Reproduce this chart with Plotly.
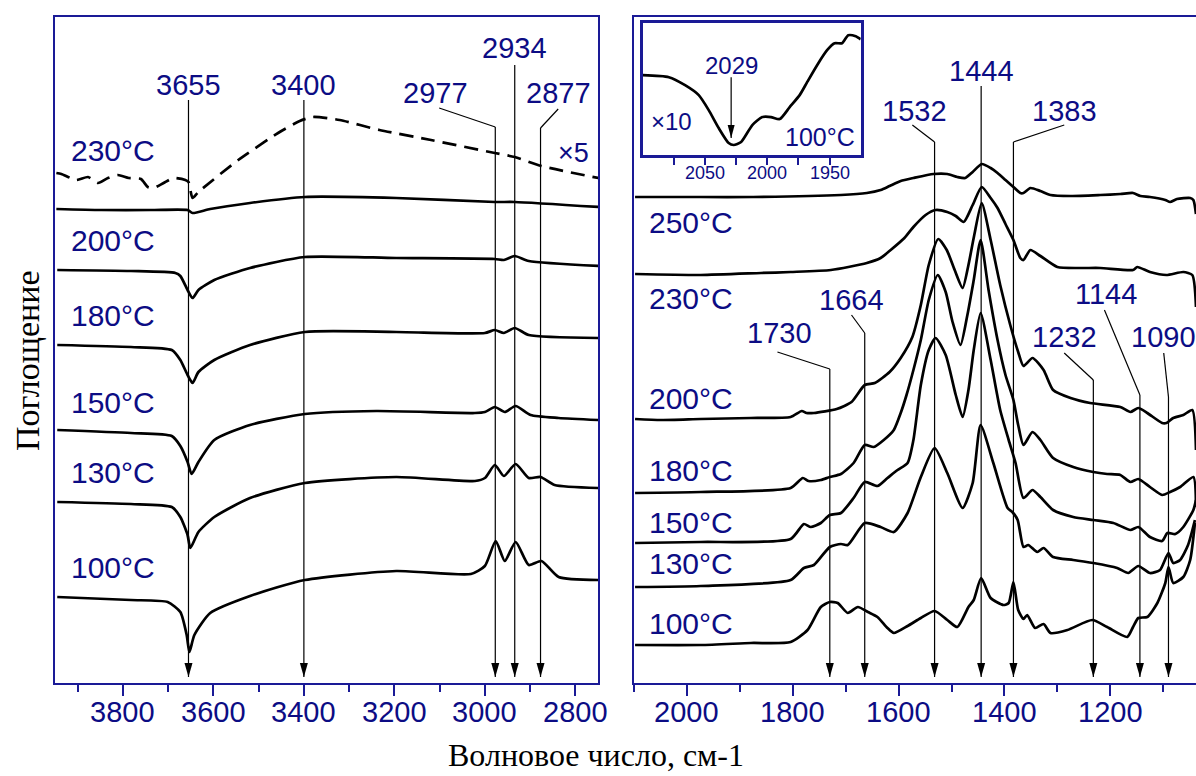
import plotly.graph_objects as go

NAVY = "#0c0c84"
FRAME = "#1a1a96"
SANS = "Arial, Liberation Sans, sans-serif"
SERIF = "Times New Roman, Liberation Serif, serif"

# ---------------- Left panel data (wavenumber, absorbance a.u.) ----------------
left_230x5_wn = [3947, 3936, 3903, 3877, 3855, 3833, 3811, 3787, 3760, 3745, 3732, 3710, 3688, 3662, 3655,
                 3646, 3633, 3545, 3457, 3409, 3380, 3321, 3233, 3119, 2978, 2934, 2875, 2749]
left_230x5_abs = [510, 509, 503, 506, 500, 505, 508, 505, 504, 496, 495, 500, 505, 503, 501,
                  485, 491, 523, 550, 562, 566, 563, 553, 543, 530, 526, 517, 505]

left_230_wn = [3947, 3848, 3738, 3657, 3646, 3607, 3519, 3398, 3196, 2978, 2934, 2749]
left_230_abs = [474, 473, 473, 473, 470, 474, 480, 486, 485, 481, 481, 476]

left_200_wn = [3945, 3782, 3684, 3673, 3657, 3646, 3633, 3598, 3519, 3398, 3196, 2978, 2958, 2934, 2903, 2749]
left_200_abs = [413, 412, 410, 407, 393, 385, 393, 403, 415, 426, 425, 424, 423, 427, 422, 417]

left_180_wn = [3945, 3782, 3692, 3673, 3657, 3646, 3633, 3598, 3519, 3398, 3196, 3000, 2978, 2958, 2934, 2903, 2749]
left_180_abs = [338, 336, 333, 323, 308, 300, 311, 323, 338, 351, 351, 350, 353, 350, 355, 348, 345]

left_150_wn = [3945, 3782, 3692, 3673, 3657, 3648, 3633, 3598, 3519, 3398, 3240, 3022, 3000, 2978, 2956,
               2932, 2899, 2837, 2749]
left_150_abs = [253, 250, 247, 237, 221, 209, 221, 243, 258, 269, 272, 270, 271, 276, 271,
                277, 268, 265, 263]

left_130_wn = [3945, 3782, 3692, 3673, 3657, 3651, 3633, 3598, 3519, 3398, 3196, 3022, 3000, 2978, 2958,
               2932, 2903, 2877, 2846, 2749]
left_130_abs = [181, 179, 176, 166, 148, 135, 151, 166, 185, 200, 206, 202, 205, 218, 207,
                219, 205, 206, 198, 195]

left_100_wn = [3945, 3782, 3701, 3673, 3659, 3653, 3642, 3607, 3519, 3398, 3196, 3031, 3000, 2976, 2956,
               2932, 2903, 2875, 2837, 2749]
left_100_abs = [86, 83, 81, 71, 48, 31, 48, 70, 87, 103, 112, 109, 117, 142, 122,
                141, 118, 122, 106, 103]

# ---------------- Right panel data ----------------
r250_wn = [2098, 1974, 1875, 1709, 1660, 1634, 1617, 1596, 1572, 1534, 1508, 1489, 1474, 1460, 1443, 1426,
           1413, 1398, 1383, 1370, 1364, 1351, 1332, 1313, 1275, 1219, 1181, 1157, 1143, 1125, 1096, 1087,
           1074, 1049, 1043, 1038]
r250_abs = [486, 486, 486, 488, 490, 493, 497, 502, 505, 509, 509, 506, 505, 511, 519, 515,
            510, 503, 496, 490, 490, 495, 492, 488, 487, 488, 489, 490, 487, 486, 483, 481,
            484, 485, 483, 469]

r230_wn = [2098, 1974, 1860, 1804, 1728, 1660, 1634, 1615, 1589, 1572, 1549, 1530, 1508, 1492, 1477, 1460,
           1443, 1426, 1413, 1398, 1383, 1370, 1364, 1351, 1332, 1300, 1257, 1219, 1157, 1149, 1125, 1094,
           1062, 1045, 1038]
r230_abs = [409, 408, 410, 411, 413, 420, 425, 433, 445, 456, 468, 473, 471, 467, 461, 478,
            496, 485, 475, 459, 443, 425, 423, 433, 427, 416, 415, 415, 413, 416, 411, 408,
            411, 408, 376]

r200_wn = [2098, 2049, 1974, 1879, 1804, 1783, 1774, 1760, 1717, 1689, 1664, 1645, 1617, 1596, 1574, 1558,
           1543, 1525, 1509, 1494, 1479, 1468, 1457, 1443, 1426, 1408, 1389, 1374, 1364, 1347, 1326, 1308,
           1275, 1238, 1181, 1162, 1147, 1130, 1102, 1094, 1081, 1062, 1045, 1038]
r200_abs = [264, 263, 264, 265, 266, 272, 270, 270, 274, 281, 298, 300, 311, 325, 346, 378,
            418, 444, 433, 413, 395, 418, 448, 480, 443, 398, 358, 331, 317, 325, 313, 293,
            285, 280, 276, 271, 275, 270, 260, 260, 265, 268, 273, 233]

r180_wn = [2098, 1974, 1804, 1781, 1770, 1747, 1730, 1709, 1685, 1664, 1647, 1628, 1609, 1596, 1585, 1572,
           1558, 1543, 1526, 1511, 1498, 1483, 1470, 1458, 1445, 1430, 1413, 1398, 1383, 1374, 1364, 1347,
           1332, 1308, 1270, 1232, 1206, 1181, 1162, 1147, 1125, 1102, 1087, 1068, 1043, 1038]
r180_abs = [190, 191, 195, 205, 202, 203, 206, 209, 220, 238, 236, 243, 253, 270, 288, 313,
            343, 383, 408, 391, 361, 338, 368, 403, 443, 393, 343, 308, 283, 258, 238, 251,
            243, 225, 216, 211, 209, 208, 201, 204, 196, 188, 191, 196, 206, 176]

r150_wn = [2098, 1974, 1804, 1779, 1766, 1747, 1730, 1709, 1685, 1664, 1640, 1621, 1602, 1583, 1572, 1558,
           1543, 1530, 1511, 1492, 1479, 1468, 1458, 1445, 1426, 1408, 1392, 1379, 1364, 1347, 1332, 1308,
           1270, 1232, 1194, 1162, 1147, 1125, 1102, 1092, 1077, 1062, 1043, 1038]
r150_abs = [140, 141, 144, 159, 156, 160, 168, 170, 185, 201, 197, 205, 213, 220, 243, 298,
            333, 345, 328, 288, 266, 293, 333, 370, 323, 273, 243, 220, 185, 193, 186, 173,
            166, 163, 160, 153, 156, 146, 142, 150, 149, 156, 173, 183]

r130_wn = [2098, 1974, 1804, 1779, 1760, 1730, 1709, 1696, 1664, 1634, 1609, 1583, 1558, 1532, 1508, 1479,
           1460, 1445, 1421, 1394, 1385, 1375, 1364, 1355, 1338, 1326, 1308, 1270, 1232, 1187, 1166, 1147,
           1125, 1106, 1090, 1081, 1068, 1053, 1040]
r130_abs = [96, 97, 103, 115, 118, 136, 139, 138, 160, 156, 151, 170, 206, 235, 210, 175,
            200, 258, 220, 175, 171, 163, 136, 138, 131, 135, 126, 123, 120, 115, 110, 117,
            110, 113, 130, 120, 123, 138, 163]

r100_wn = [2098, 1974, 1879, 1804, 1772, 1747, 1730, 1715, 1696, 1677, 1658, 1640, 1621, 1609, 1583, 1558,
           1532, 1508, 1489, 1468, 1458, 1444, 1426, 1402, 1392, 1383, 1374, 1364, 1357, 1342, 1326, 1313,
           1281, 1234, 1206, 1168, 1157, 1147, 1130, 1111, 1096, 1090, 1081, 1062, 1049, 1040]
r100_abs = [38, 38, 40, 41, 53, 76, 81, 80, 70, 76, 71, 66, 55, 50, 57, 65,
            72, 63, 56, 76, 83, 105, 85, 78, 80, 101, 73, 64, 68, 55, 59, 50,
            53, 63, 56, 46, 56, 65, 66, 80, 100, 116, 100, 106, 123, 160]

# ---------------- Inset data (x10, 100 °C) ----------------
inset_wn = [2100, 2079, 2066, 2055, 2047, 2039, 2031, 2027, 2021, 2012, 2004, 1997, 1990, 1982, 1974,
            1968, 1960, 1952, 1946, 1940, 1935, 1929, 1925]
inset_abs = [80, 78, 70, 60, 45, 27, 12, 10, 13, 30, 38, 38, 36, 48, 60,
             73, 90, 105, 112, 112, 120, 119, 116]

# ---------------- Tick values ----------------
left_ticks = [3800, 3600, 3400, 3200, 3000, 2800]
left_minor = [3900, 3700, 3500, 3300, 3100, 2900]
right_ticks = [2000, 1800, 1600, 1400, 1200]
right_minor = [2100, 1900, 1700, 1500, 1300, 1100]
inset_ticks = [2050, 2000, 1950]
inset_minor = [2075, 2025, 1975]

left_temp_labels = ["230°C", "200°C", "180°C", "150°C", "130°C", "100°C"]
left_temp_y = [533, 443, 368, 281, 211, 116]
right_temp_labels = ["250°C", "230°C", "200°C", "180°C", "150°C", "130°C", "100°C"]
right_temp_y = [461, 385, 285, 213, 161, 120, 60]

fig = go.Figure()


def add_curve(wn, ab, xa, ya, dash="solid"):
    fig.add_trace(go.Scatter(x=wn, y=ab, xaxis=xa, yaxis=ya, mode="lines",
                             line=dict(color="black", width=2.7, shape="spline", smoothing=0.6, dash=dash),
                             showlegend=False, hoverinfo="skip"))


add_curve(left_230x5_wn, left_230x5_abs, "x", "y", dash="14px,8px")
for wn, ab in [(left_230_wn, left_230_abs), (left_200_wn, left_200_abs), (left_180_wn, left_180_abs),
               (left_150_wn, left_150_abs), (left_130_wn, left_130_abs), (left_100_wn, left_100_abs)]:
    add_curve(wn, ab, "x", "y")
for wn, ab in [(r250_wn, r250_abs), (r230_wn, r230_abs), (r200_wn, r200_abs), (r180_wn, r180_abs),
               (r150_wn, r150_abs), (r130_wn, r130_abs), (r100_wn, r100_abs)]:
    add_curve(wn, ab, "x2", "y2")
add_curve(inset_wn, inset_abs, "x3", "y3")

TIP = 6
shapes = []
annotations = []


def peak_marker(xr, yr, peak, label, lx, ly, top_y, sx=None, bend_y=None, tip=TIP, size=29, head=14, hw=4):
    annotations.append(dict(x=lx, y=ly, xref=xr, yref=yr, text=label, showarrow=False,
                            font=dict(family=SANS, size=size, color=NAVY), xanchor="center", yanchor="middle"))
    ln = dict(color="black", width=1.2)
    if bend_y is None:
        shapes.append(dict(type="line", xref=xr, yref=yr, x0=peak, x1=peak, y0=top_y, y1=tip, line=ln))
    else:
        shapes.append(dict(type="line", xref=xr, yref=yr, x0=sx, x1=peak, y0=top_y, y1=bend_y, line=ln))
        shapes.append(dict(type="line", xref=xr, yref=yr, x0=peak, x1=peak, y0=bend_y, y1=tip, line=ln))
    shapes.append(dict(type="path", xref=xr, yref=yr, xsizemode="pixel", ysizemode="pixel",
                       xanchor=peak, yanchor=tip, path=f"M0,0 L{-hw},{head} L{hw},{head} Z",
                       fillcolor="black", line=dict(width=0)))


peak_marker("x", "y", 3655, "3655", 3655, 598, 583)
peak_marker("x", "y", 3400, "3400", 3400, 598, 583)
peak_marker("x", "y", 2977, "2977", 3109, 590, 575, sx=3101, bend_y=556)
peak_marker("x", "y", 2934, "2934", 2934, 635, 618)
peak_marker("x", "y", 2877, "2877", 2838, 590, 574, sx=2838, bend_y=555)

peak_marker("x2", "y2", 1444, "1444", 1444, 612, 597)
peak_marker("x2", "y2", 1532, "1532", 1570, 572, 558, sx=1574, bend_y=541)
peak_marker("x2", "y2", 1383, "1383", 1287, 572, 558, sx=1287, bend_y=541)
peak_marker("x2", "y2", 1664, "1664", 1689, 383, 368, sx=1689, bend_y=350)
peak_marker("x2", "y2", 1730, "1730", 1825, 350, 331, sx=1829, bend_y=314)
peak_marker("x2", "y2", 1232, "1232", 1287, 346, 330, sx=1287, bend_y=303)
peak_marker("x2", "y2", 1144, "1144", 1208, 389, 373, sx=1211, bend_y=288)
peak_marker("x2", "y2", 1090, "1090", 1100, 346, 330, sx=1099, bend_y=286)

peak_marker("x3", "y3", 2029, "2029", 2029, 90, 78, tip=17, size=24, head=13, hw=3.5)

for t, y in zip(left_temp_labels, left_temp_y):
    annotations.append(dict(x=3919, y=y, xref="x", yref="y", text=t, showarrow=False,
                            font=dict(family=SANS, size=30, color=NAVY), xanchor="left", yanchor="middle"))
for t, y in zip(right_temp_labels, right_temp_y):
    annotations.append(dict(x=2075, y=y, xref="x2", yref="y2", text=t, showarrow=False,
                            font=dict(family=SANS, size=30, color=NAVY), xanchor="left", yanchor="middle"))

annotations.append(dict(x=2804, y=530, xref="x", yref="y", text="×5", showarrow=False,
                        font=dict(family=SANS, size=27, color=NAVY), xanchor="center", yanchor="middle"))
annotations.append(dict(x=2095, y=34, xref="x3", yref="y3", text="×10", showarrow=False,
                        font=dict(family=SANS, size=24, color=NAVY), xanchor="left", yanchor="middle"))
annotations.append(dict(x=1958, y=18, xref="x3", yref="y3", text="100°C", showarrow=False,
                        font=dict(family=SANS, size=25, color=NAVY), xanchor="center", yanchor="middle"))

# tick labels (placed as text just below the ticks)
for v in left_ticks:
    annotations.append(dict(x=v, y=-0.0435, xref="x", yref="paper", text=str(v), showarrow=False,
                            font=dict(family=SANS, size=29, color=NAVY), xanchor="center", yanchor="middle"))
for v in right_ticks:
    annotations.append(dict(x=v, y=-0.0435, xref="x2", yref="paper", text=str(v), showarrow=False,
                            font=dict(family=SANS, size=29, color=NAVY), xanchor="center", yanchor="middle"))
for v in inset_ticks:
    annotations.append(dict(x=v, y=(683 - 173) / 666, xref="x3", yref="paper", text=str(v), showarrow=False,
                            font=dict(family=SANS, size=18, color=NAVY), xanchor="center", yanchor="middle"))

annotations.append(dict(x=0.498, y=-0.108, xref="paper", yref="paper", text="Волновое число, см-1",
                        showarrow=False, font=dict(family=SERIF, size=32, color="black"),
                        xanchor="center", yanchor="middle"))
annotations.append(dict(x=0.0234, y=0.485, xref="paper", yref="paper", text="Поглощение", textangle=-90,
                        showarrow=False, font=dict(family=SERIF, size=34, color="black"),
                        xanchor="center", yanchor="middle"))

axis_common = dict(showgrid=False, zeroline=False, showline=True, linecolor=FRAME, linewidth=2,
                   ticks="outside", tickcolor=FRAME, tickwidth=2, ticklen=11, showticklabels=False)

fig.update_layout(
    width=1196, height=776,
    margin=dict(l=0, r=0, t=17, b=93),
    paper_bgcolor="white", plot_bgcolor="white",
    showlegend=False,
    xaxis=dict(domain=[55 / 1196, 0.5], range=[3950, 2750], anchor="y", mirror=True,
               tickmode="array", tickvals=left_ticks,
               minor=dict(tickmode="array", tickvals=left_minor, ticks="outside", ticklen=7,
                          tickwidth=2, tickcolor=FRAME),
               **axis_common),
    yaxis=dict(domain=[0, 1], range=[0, 666], anchor="x", showgrid=False, zeroline=False, showline=True,
               linecolor=FRAME, linewidth=2, mirror=True, showticklabels=False, ticks=""),
    xaxis2=dict(domain=[634 / 1196, 1], range=[2100, 1038], anchor="y2", mirror=True,
                tickmode="array", tickvals=right_ticks,
                minor=dict(tickmode="array", tickvals=right_minor, ticks="outside", ticklen=7,
                           tickwidth=2, tickcolor=FRAME),
                **axis_common),
    yaxis2=dict(domain=[0, 1], range=[0, 666], anchor="x2", showgrid=False, zeroline=False, showline=True,
                linecolor=FRAME, linewidth=2, mirror=False, showticklabels=False, ticks=""),
    xaxis3=dict(domain=[642.7 / 1196, 860.7 / 1196], range=[2100, 1925], anchor="y3", mirror=True,
                showgrid=False, zeroline=False, showline=True, linecolor=FRAME, linewidth=2.5,
                ticks="outside", tickcolor=FRAME, tickwidth=2, ticklen=7, showticklabels=False,
                tickmode="array", tickvals=inset_ticks,
                minor=dict(tickmode="array", tickvals=inset_minor, ticks="outside", ticklen=7,
                           tickwidth=2, tickcolor=FRAME)),
    yaxis3=dict(domain=[(683 - 155) / 666, (683 - 23.3) / 666], range=[0, 132], anchor="x3",
                showgrid=False, zeroline=False, showline=True, linecolor=FRAME, linewidth=2.5, mirror=True,
                showticklabels=False, ticks=""),
    shapes=shapes,
    annotations=annotations,
)

fig.write_html("out.html")
